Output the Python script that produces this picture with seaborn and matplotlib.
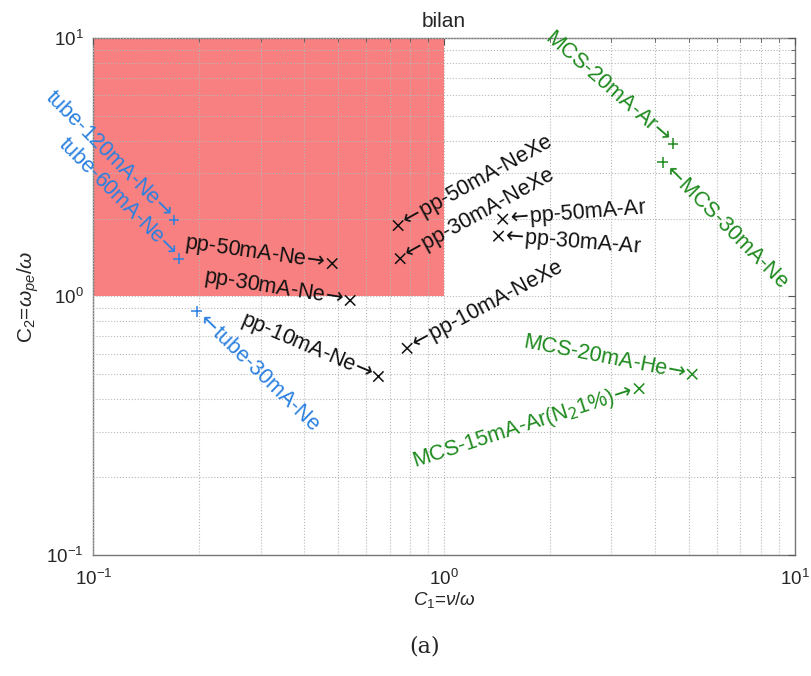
import numpy as np
import pandas as pd
import seaborn as sns
import matplotlib.pyplot as plt
from matplotlib.patches import Rectangle

# --- data ---
labels = ['tube-120mA-Ne', 'tube-60mA-Ne', 'tube-30mA-Ne',
          'pp-50mA-Ne', 'pp-30mA-Ne', 'pp-10mA-Ne',
          'pp-50mA-NeXe', 'pp-30mA-NeXe', 'pp-10mA-NeXe',
          'pp-50mA-Ar', 'pp-30mA-Ar',
          'MCS-20mA-Ar', 'MCS-30mA-Ne', 'MCS-20mA-He', 'MCS-15mA-Ar(N$_2$1%)']
c1 = [0.170, 0.175, 0.197, 0.48, 0.54, 0.65, 0.74, 0.75, 0.785,
      1.47, 1.43, 4.5, 4.2, 5.1, 3.6]
c2 = [1.97, 1.40, 0.875, 1.34, 0.965, 0.49, 1.88, 1.40, 0.63,
      1.99, 1.71, 3.9, 3.3, 0.50, 0.44]
groups = ['tube'] * 3 + ['pp'] * 8 + ['MCS'] * 4
marks = ['+', '+', '+', 'x', 'x', 'x', 'x', 'x', 'x', 'x', 'x', '+', '+', 'x', 'x']

# label layout: which side the arrow is on and the text angle
sides = ['r', 'r', 'l', 'r', 'r', 'r', 'l', 'l', 'l', 'l', 'l', 'r', 'l', 'r', 'r']
angles = [-45, -45, -44, -8, -9, -23, 29, 29, 28, 4.5, -4.5, -41, -45, -11, 18]

colors = {'tube': '#2a80e0', 'pp': '#111111', 'MCS': '#1e8a1e'}

df = pd.DataFrame({'c1': c1, 'c2': c2, 'group': groups, 'mk': marks})

sns.set_style('white')
plt.rcParams['font.family'] = ['Liberation Sans', 'DejaVu Sans']
plt.rcParams['mathtext.fontset'] = 'custom'
plt.rcParams['mathtext.rm'] = 'Liberation Sans'
plt.rcParams['mathtext.it'] = 'Liberation Sans:italic'

fig = plt.figure(figsize=(8.11, 6.76), dpi=100)
ax = fig.add_axes([0.115, 0.179, 0.865, 0.765])
ax.set_xscale('log')
ax.set_yscale('log')

# red zone
ax.add_patch(Rectangle((0.1, 1), 0.9, 9, facecolor='#f98080', edgecolor='none', zorder=0.8))

ax.set_axisbelow(False)
ax.grid(True, which='both', linestyle=':', color='#b8b8b8', linewidth=0.8, zorder=1)

sns.scatterplot(data=df, x='c1', y='c2', hue='group', palette=colors,
                style='mk', markers={'+': '+', 'x': 'x'}, s=55, linewidth=1.1,
                legend=False, ax=ax, zorder=3)

for lab, x, y, g, side, ang in zip(labels, c1, c2, groups, sides, angles):
    th = np.deg2rad(ang)
    if side == 'r':
        txt, ha, d = lab + r'$\!\rightarrow\!$', 'right', -5
    else:
        txt, ha, d = r'$\!\leftarrow\!$' + lab, 'left', 5
    ax.annotate(txt, (x, y), xytext=(d * np.cos(th), d * np.sin(th)),
                textcoords='offset points', ha=ha, va='center',
                rotation=ang, rotation_mode='anchor', math_fontfamily='dejavusans',
                color=colors[g], fontsize=15.5, zorder=4)

ax.set_xlim(0.1, 10)
ax.set_ylim(0.1, 10)
ax.tick_params(which='both', direction='in', top=True, right=True, labelsize=13.5, color='#555555')
ax.tick_params(which='major', length=5)
ax.tick_params(which='minor', length=3)
ax.tick_params(axis='x', which='major', pad=10)
ax.tick_params(axis='y', which='major', pad=7)
for sp in ax.spines.values():
    sp.set_color('#777777')
    sp.set_linewidth(1.0)

ax.set_title('bilan', fontsize=15, pad=8)
ax.set_xlabel(r'$C_1$=$\nu$/$\omega$', fontsize=13.5, labelpad=1)
ax.set_ylabel(r'C$_2$=$\omega_{pe}$/$\omega$', fontsize=15, labelpad=4)

fig.text(0.523, 0.035, '(a)', fontsize=16, family='DejaVu Serif', ha='center')

fig.savefig('out.png', dpi=100)
